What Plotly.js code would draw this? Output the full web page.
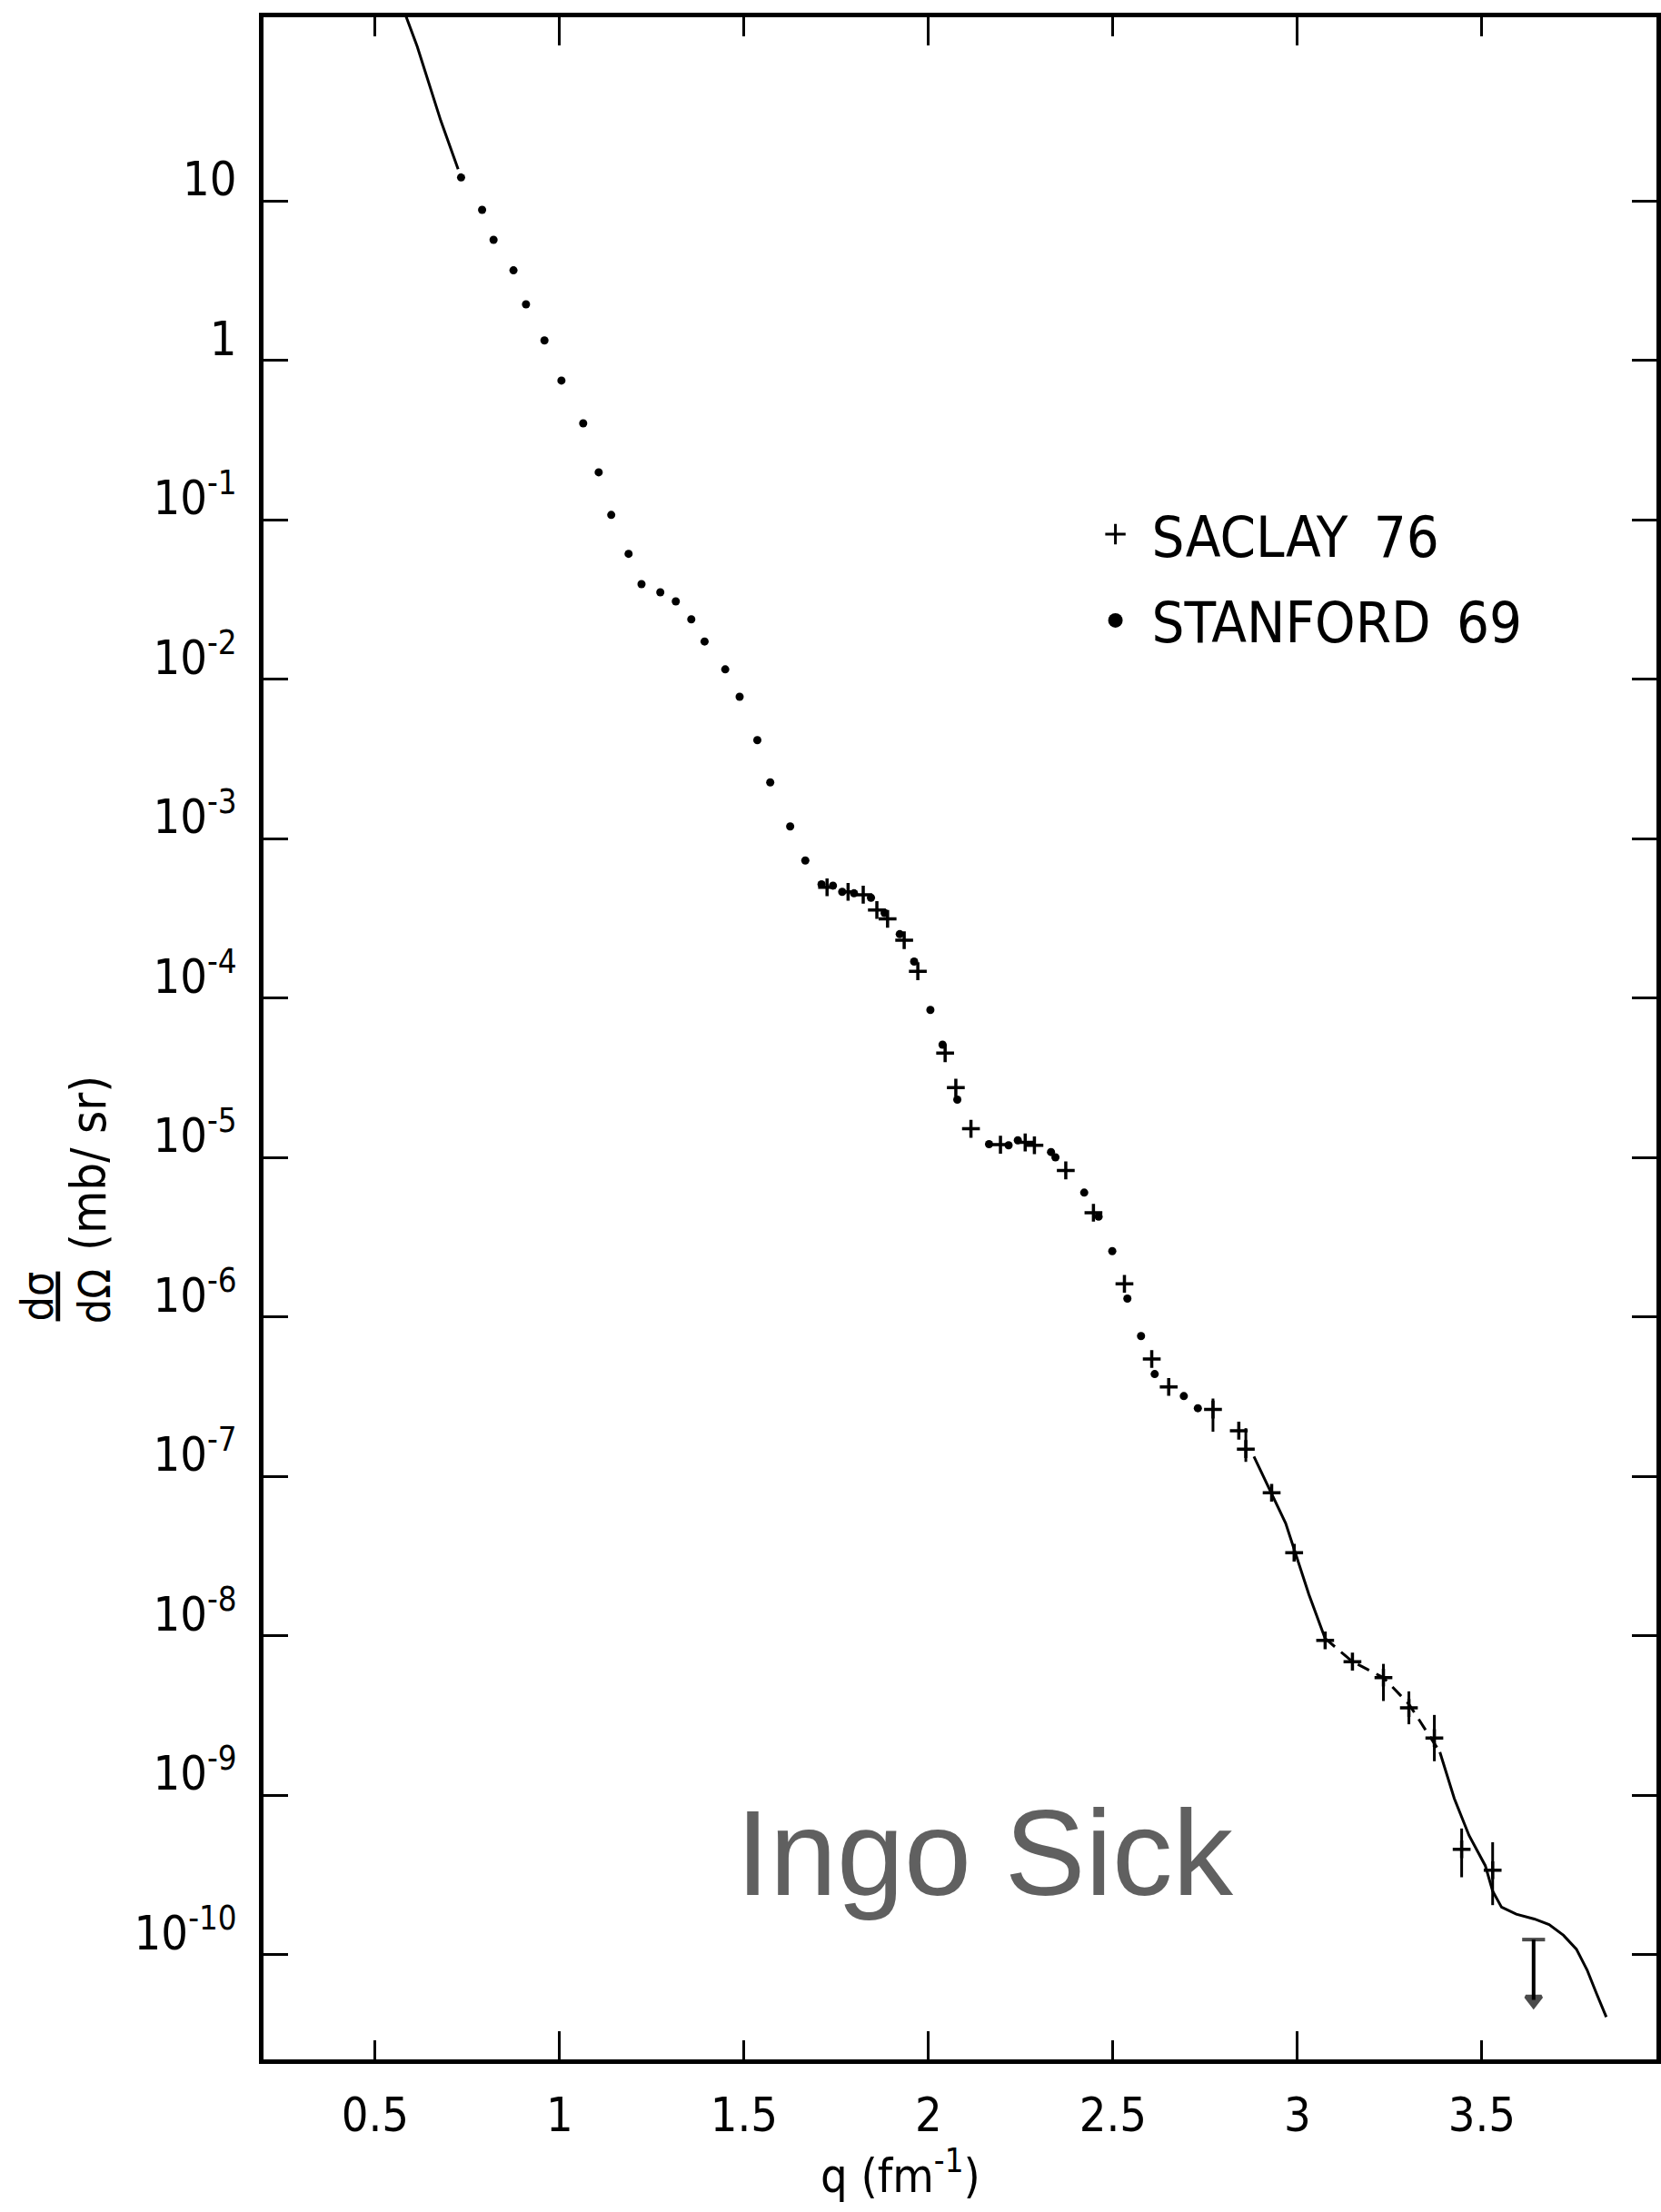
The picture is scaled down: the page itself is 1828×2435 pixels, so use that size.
<!DOCTYPE html>
<html><head><meta charset="utf-8">
<script src="https://cdn.plot.ly/plotly-3.0.1.min.js"></script>
<style>html,body{margin:0;padding:0;background:#fff}</style>
</head><body>
<div id="chart" style="width:1828px;height:2435px"></div>
<script>
// ---- data ----
const stanfordQ = [0.733,0.790,0.821,0.875,0.909,0.959,1.005,1.064,1.106,1.140,1.187,1.222,1.273,1.315,1.357,1.393,1.449,1.488,1.536,1.571,1.625,1.666,1.710,1.741,1.766,1.798,1.844,1.881,1.922,1.961,2.005,2.038,2.078,2.164,2.217,2.242,2.332,2.344,2.422,2.461,2.498,2.539,2.576,2.613,2.692,2.730];
const stanfordSigma = [14.0,8.77,5.69,3.66,2.24,1.33,0.745,0.402,0.198,0.107,0.0610,0.0394,0.0350,0.0307,0.0237,0.0172,0.0115,0.00774,0.00414,0.00225,0.00119,7.28e-4,5.16e-4,5.06e-4,4.63e-4,4.53e-4,4.25e-4,3.41e-4,2.51e-4,1.69e-4,8.41e-5,5.09e-5,2.30e-5,1.21e-5,1.19e-5,1.28e-5,1.08e-5,1.00e-5,6.01e-6,4.25e-6,2.58e-6,1.30e-6,7.57e-7,4.37e-7,3.18e-7,2.67e-7];

const saclayQ = [1.725,1.782,1.823,1.860,1.889,1.934,1.971,2.045,2.074,2.115,2.195,2.262,2.287,2.372,2.447,2.531,2.605,2.651,2.771,2.841,2.860,2.930,2.991,3.075,3.149,3.233,3.302,3.371,3.445,3.529];
const saclaySigma = [4.94e-4,4.63e-4,4.44e-4,3.56e-4,3.13e-4,2.30e-4,1.47e-4,4.50e-5,2.74e-5,1.51e-5,1.20e-5,1.24e-5,1.19e-5,8.28e-6,4.49e-6,1.61e-6,5.43e-7,3.63e-7,2.62e-7,1.93e-7,1.48e-7,7.87e-8,3.31e-8,9.33e-9,6.87e-9,5.45e-9,3.52e-9,2.28e-9,4.57e-10,3.38e-10];
const saclayErrPlus  = [0,0,0,0,0,0,0,0,0,0,0,0,0,0,0,0,0,0,0.45e-7,0,0.52e-7,0,0,0,0,1.2e-9,0.95e-9,0.9e-9,1.6e-10,1.68e-10];
const saclayErrMinus = [0,0,0,0,0,0,0,0,0,0,0,0,0,0,0,0,0,0,0.72e-7,0,0.25e-7,0,0,0,0,1.56e-9,0.74e-9,0.65e-9,1.52e-10,1.34e-10];

const fitLowQ = [0.583,0.614,0.678,0.725];
const fitLowSigma = [145,93.1,31.8,15.8];
const fitHighQ = [2.882,2.911,2.968,3.031,3.075];
const fitHighSigma = [1.33e-7,9.57e-8,5.07e-8,1.81e-8,9.59e-9];
const fitDashQ = [3.075,3.149,3.233,3.302,3.386];
const fitDashSigma = [9.59e-9,6.87e-9,5.45e-9,3.72e-9,1.86e-9];
const fitTailQ = [3.386,3.425,3.465,3.509,3.529,3.553,3.593,3.642,3.682,3.721,3.756,3.785,3.810,3.837];
const fitTailSigma = [1.86e-9,9.53e-10,5.58e-10,3.61e-10,2.50e-10,1.98e-10,1.79e-10,1.67e-10,1.54e-10,1.32e-10,1.08e-10,8.0e-11,5.73e-11,4.05e-11];

// upper limit at the highest q: bar from the upper value down to the arrow
const limitQ = [3.640];
const limitUpper = [1.24e-10];
const limitLower = [5.19e-11];

const xTickVals = [0.5,1,1.5,2,2.5,3,3.5];
const xTickText = ['0.5','1','1.5','2','2.5','3','3.5'];
const xLongTickVals = [1,2,3];
const yTickVals = [1e1,1e0,1e-1,1e-2,1e-3,1e-4,1e-5,1e-6,1e-7,1e-8,1e-9,1e-10];
const yTickText = ['10','1','10<sup>-1</sup>','10<sup>-2</sup>','10<sup>-3</sup>','10<sup>-4</sup>','10<sup>-5</sup>','10<sup>-6</sup>','10<sup>-7</sup>','10<sup>-8</sup>','10<sup>-9</sup>','10<sup>-10</sup>'];
const legendNames = ['SACLAY\u200276','STANFORD\u200269'];

// ---- styling ----
const FONT = "'Liberation Sans Narrow', 'DejaVu Sans Condensed', 'Liberation Sans', sans-serif";
const INK = '#000';
const lineStyle = {color: INK, width: 3};

const traces = [
  {x: fitLowQ, y: fitLowSigma, mode: 'lines', line: lineStyle, showlegend: false, hoverinfo: 'skip'},
  {x: fitHighQ, y: fitHighSigma, mode: 'lines', line: lineStyle, showlegend: false, hoverinfo: 'skip'},
  {x: fitDashQ, y: fitDashSigma, mode: 'lines', line: {color: INK, width: 3, dash: '14px,9px'}, showlegend: false, hoverinfo: 'skip'},
  {x: fitTailQ, y: fitTailSigma, mode: 'lines', line: lineStyle, showlegend: false, hoverinfo: 'skip'},
  {x: stanfordQ, y: stanfordSigma, mode: 'markers', name: legendNames[1], showlegend: false,
   marker: {symbol: 'circle', size: 9, color: INK}},
  {x: saclayQ, y: saclaySigma, mode: 'markers', name: legendNames[0], showlegend: false,
   marker: {symbol: 'cross-thin-open', size: 14, color: INK, line: {width: 3.5, color: INK}},
   error_y: {type: 'data', symmetric: false, array: saclayErrPlus, arrayminus: saclayErrMinus,
             color: INK, thickness: 3, width: 0}},
  {x: [limitQ[0], limitQ[0]], y: [limitUpper[0], limitLower[0]], xaxis: 'x2',
   mode: 'lines+markers', showlegend: false, hoverinfo: 'skip',
   line: {color: INK, width: 4},
   marker: {symbol: ['line-ew-open', 'triangle-down'], size: [18, 15], color: INK,
            line: {width: 4, color: INK}}},
  // legend entries (symbols drawn by the legend)
  {x: [null], y: [null], mode: 'markers', name: legendNames[0], legendgroup: 'saclay',
   marker: {symbol: 'cross-thin-open', size: 16, color: INK, line: {width: 3, color: INK}}},
  {x: [null], y: [null], mode: 'markers', name: legendNames[1], legendgroup: 'stanford',
   marker: {symbol: 'circle', size: 16, color: INK}}
];

const xRange = [0.1975, 3.973];
const axisCommon = {
  showgrid: false, zeroline: false, showline: true, linecolor: INK, linewidth: 5,
  mirror: 'ticks', ticks: 'inside', tickcolor: INK, tickwidth: 3,
  tickfont: {family: FONT, size: 52, color: INK}
};

const layout = {
  width: 1828, height: 2435,
  margin: {l: 290, r: 5, t: 19, b: 168, pad: 0},
  paper_bgcolor: '#fff', plot_bgcolor: '#fff',
  font: {family: FONT, color: INK},
  showlegend: true,
  legend: {x: 0.5855, y: 0.768, xanchor: 'left', yanchor: 'top', bgcolor: 'rgba(0,0,0,0)',
           font: {family: FONT, size: 63, color: INK}, itemwidth: 70, tracegroupgap: 10},
  xaxis: Object.assign({}, axisCommon, {
    type: 'linear', range: xRange, tickmode: 'array', tickvals: xTickVals, ticktext: xTickText,
    ticklen: 21, ticklabelstandoff: 12
  }),
  xaxis2: {
    overlaying: 'x', matches: 'x', anchor: 'y', side: 'bottom', range: xRange,
    tickmode: 'array', tickvals: xLongTickVals, ticks: 'inside', ticklen: 31, tickwidth: 3,
    tickcolor: INK, mirror: 'ticks', showline: false, showticklabels: false,
    showgrid: false, zeroline: false
  },
  yaxis: Object.assign({}, axisCommon, {
    type: 'log', range: [-10.658, 2.151], tickmode: 'array', tickvals: yTickVals, ticktext: yTickText,
    ticklen: 27, ticklabelshift: -24, ticklabelstandoff: 14
  }),
  annotations: [
    {text: 'Ingo Sick', xref: 'paper', yref: 'paper', x: 0.518, y: 0.1010, xanchor: 'center', yanchor: 'middle',
     showarrow: false, font: {family: "'Liberation Sans', Arial, sans-serif", size: 133, color: '#606060'}},
    {text: 'q (fm<sup>-1</sup>)', xref: 'paper', yref: 'paper', x: 0.457, y: -0.0550, xanchor: 'center', yanchor: 'middle',
     showarrow: false, font: {family: FONT, size: 52, color: INK}},
    {text: '(mb/ sr)', xref: 'paper', yref: 'paper', x: -0.126, y: 0.439, xanchor: 'center', yanchor: 'middle',
     textangle: -90, showarrow: false, font: {family: FONT, size: 54, color: INK}},
    {text: '<u>dσ</u><br>dΩ', xref: 'paper', yref: 'paper', x: -0.142, y: 0.3737, xanchor: 'center', yanchor: 'middle',
     textangle: -90, showarrow: false, font: {family: FONT, size: 48, color: INK}}
  ]
};

Plotly.newPlot('chart', traces, layout, {displayModeBar: false, staticPlot: true});
</script>
</body></html>
